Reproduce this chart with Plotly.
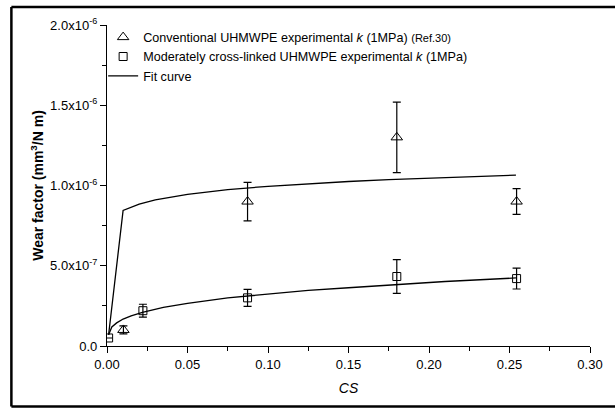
import plotly.graph_objects as go

# Conventional UHMWPE (triangles)
conv_cs = [0.0102, 0.0873, 0.180, 0.2544]
conv_k = [1.0e-7, 9.0e-7, 1.30e-6, 9.0e-7]
conv_err = [2.5e-8, 1.2e-7, 2.2e-7, 8.0e-8]

# Moderately cross-linked UHMWPE (squares)
xl_cs = [0.001, 0.0223, 0.0873, 0.180, 0.2544]
xl_k = [5.0e-8, 2.2e-7, 3.0e-7, 4.33e-7, 4.2e-7]
xl_err = [0.0, 4.0e-8, 5.3e-8, 1.05e-7, 6.5e-8]

# Fit curves
fit1_cs = [0.001, 0.01, 0.02, 0.03, 0.05, 0.075, 0.10, 0.125, 0.15, 0.175, 0.20, 0.225, 0.254]
fit1_k = [7.0e-8, 8.45e-7, 8.84e-7, 9.11e-7, 9.45e-7, 9.74e-7, 9.95e-7, 1.011e-6, 1.025e-6,
          1.037e-6, 1.047e-6, 1.056e-6, 1.065e-6]
fit2_cs = [0.001, 0.003, 0.006, 0.01, 0.015, 0.022, 0.035, 0.05, 0.075, 0.10, 0.125, 0.15,
           0.18, 0.21, 0.254]
fit2_k = [7.0e-8, 1.19e-7, 1.44e-7, 1.68e-7, 1.88e-7, 2.10e-7, 2.40e-7, 2.66e-7, 3.00e-7,
          3.24e-7, 3.46e-7, 3.63e-7, 3.84e-7, 4.02e-7, 4.24e-7]

y_tickvals = [0, 5e-7, 1e-6, 1.5e-6, 2e-6]
y_ticktext = ["0.0", "5.0x10<sup>-7</sup>", "1.0x10<sup>-6</sup>",
              "1.5x10<sup>-6</sup>", "2.0x10<sup>-6</sup>"]
x_tickvals = [0, 0.05, 0.10, 0.15, 0.20, 0.25, 0.30]
x_ticktext = ["0.00", "0.05", "0.10", "0.15", "0.20", "0.25", "0.30"]

FONT = "Liberation Sans, Arial, sans-serif"

fig = go.Figure()
fig.add_trace(go.Scatter(
    x=conv_cs, y=conv_k, mode="markers",
    name="Conventional UHMWPE experimental <i>k</i> (1MPa) <span style='font-size:11px'>(Ref.30)</span>",
    marker=dict(symbol="triangle-up-open", size=10, color="black", line=dict(width=1)),
    error_y=dict(type="data", array=conv_err, color="black", thickness=1.2, width=4),
))
fig.add_trace(go.Scatter(
    x=xl_cs, y=xl_k, mode="markers",
    name="Moderately cross-linked UHMWPE experimental <i>k</i> (1MPa)",
    marker=dict(symbol="square-open", size=8, color="black", line=dict(width=1)),
    error_y=dict(type="data", array=xl_err, color="black", thickness=1.2, width=4),
))
fig.add_trace(go.Scatter(
    x=fit1_cs, y=fit1_k, mode="lines", name="Fit curve", legendgroup="fit",
    line=dict(color="black", width=1.3),
))
fig.add_trace(go.Scatter(
    x=fit2_cs, y=fit2_k, mode="lines", name="Fit curve", legendgroup="fit",
    showlegend=False, line=dict(color="black", width=1.3),
))

L, R, T, B = 10, 640, 7, 406.5
px = lambda v: (v - 107) / 490
py = lambda v: (346 - v) / 321
border = dict(color="black", width=2.5)

fig.update_layout(
    width=615, height=408,
    margin=dict(l=107, r=18, t=25, b=62),
    paper_bgcolor="white", plot_bgcolor="white",
    font=dict(family=FONT, size=13, color="black"),
    showlegend=True,
    legend=dict(x=-0.008, y=1.008, xanchor="left", yanchor="top",
                bgcolor="rgba(0,0,0,0)", font=dict(size=12.6, family=FONT),
                tracegroupgap=0, itemwidth=30),
    xaxis=dict(
        range=[0, 0.30], tickvals=x_tickvals, ticktext=x_ticktext,
        showline=True, linecolor="black", linewidth=1.3, ticks="outside",
        ticklen=6, tickwidth=1.3, tickcolor="black", showgrid=False, zeroline=False,
        minor=dict(ticks="outside", ticklen=4, tickwidth=1.2, tickcolor="black",
                   dtick=0.025, showgrid=False),
        title=dict(text="<i>CS</i>", font=dict(size=14), standoff=12),
    ),
    yaxis=dict(
        range=[0, 2e-6], tickvals=y_tickvals, ticktext=y_ticktext,
        showline=True, linecolor="black", linewidth=1.3, ticks="outside",
        ticklen=6, tickwidth=1.3, tickcolor="black", showgrid=False, zeroline=False,
        minor=dict(ticks="outside", ticklen=4, tickwidth=1.2, tickcolor="black",
                   tickvals=[2.5e-7, 7.5e-7, 1.25e-6, 1.75e-6], showgrid=False),
        title=dict(text="<b>Wear factor (mm<sup>3</sup>/N m)</b>", font=dict(size=14), standoff=3),
    ),
    shapes=[
        dict(type="line", xref="paper", yref="paper", x0=px(L), x1=px(R), y0=py(T), y1=py(T), line=border),
        dict(type="line", xref="paper", yref="paper", x0=px(L), x1=px(R), y0=py(B), y1=py(B), line=border),
        dict(type="line", xref="paper", yref="paper", x0=px(L), x1=px(L), y0=py(T), y1=py(B), line=border),
    ],
)

fig.write_html(
    "out.html",
    post_script=("document.documentElement.style.overflow='hidden';"
                 "document.body.style.overflow='hidden';"
                 "document.body.style.margin='0';"),
    config={"displayModeBar": False},
)
